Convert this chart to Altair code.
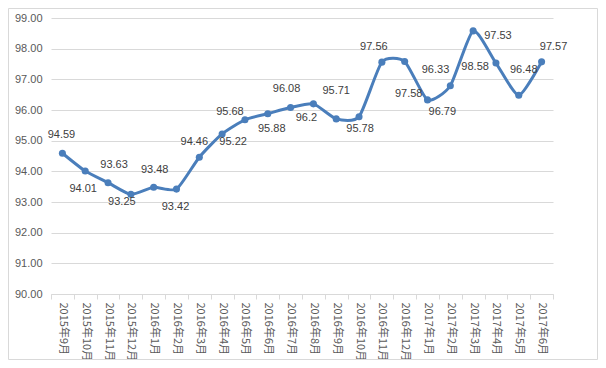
import altair as alt
import pandas as pd

months = ["2015年9月", "2015年10月", "2015年11月", "2015年12月",
          "2016年1月", "2016年2月", "2016年3月", "2016年4月", "2016年5月", "2016年6月",
          "2016年7月", "2016年8月", "2016年9月", "2016年10月", "2016年11月", "2016年12月",
          "2017年1月", "2017年2月", "2017年3月", "2017年4月", "2017年5月", "2017年6月"]
values = [94.59, 94.01, 93.63, 93.25, 93.48, 93.42, 94.46, 95.22, 95.68, 95.88,
          96.08, 96.2, 95.71, 95.78, 97.56, 97.58, 96.33, 96.79, 98.58, 97.53,
          96.48, 97.57]
y_ticks = [90, 91, 92, 93, 94, 95, 96, 97, 98, 99]

# label nudges (pixels) relative to each point, as placed in the original
label_dx = [-1, -2, 6, -9, 1, -1, -5, 11, -15, 4, -4, -7, 0, 1, -8, 4, 8, -8, 2, 2, 5, 12]
label_dy = [-18, 18, -18, 8, -17, 18, -15, 8, -8, 15, -19, 14, -28, 12, -15, 32, -30, 26, 36, -27, -25, -15]

df = pd.DataFrame({
    "month": months,
    "value": values,
    "label": [str(v) for v in values],
    "ldx": label_dx,
    "ldy": label_dy,
})

COLOR = "#4A7EBB"
FONT = "Liberation Sans, Noto Sans CJK SC"

x_enc = alt.X("month:N", sort=months, bandPosition=0.5,
              scale=alt.Scale(type="band", paddingInner=0, paddingOuter=0),
              axis=alt.Axis(title=None, labelAngle=90, labelAlign="left", labelBaseline="middle",
                            labelFont="Noto Sans CJK SC", labelFontSize=11, labelColor="#595959",
                            labelPadding=3, tickBand="extent", ticks=True, tickSize=5,
                            tickColor="#d9d9d9", domainColor="#d9d9d9", grid=False,
                            labelOverlap=False))
y_enc = alt.Y("value:Q", scale=alt.Scale(domain=[90, 99], nice=False, zero=False),
              axis=alt.Axis(title=None, values=y_ticks, format=".2f", labelFont=FONT,
                            labelFontSize=11, labelColor="#595959", labelPadding=9,
                            domain=False, ticks=False, gridColor="#d9d9d9"))

base = alt.Chart(df)

border = alt.Chart(pd.DataFrame({"k": [0]})).mark_rect(
    filled=False, stroke="#d9d9d9", strokeWidth=1
).encode(x=alt.value(-42.5), x2=alt.value(546.5), y=alt.value(-9.5), y2=alt.value(341.5))

line = base.mark_line(color=COLOR, strokeWidth=3, interpolate="cardinal", tension=0.4).encode(x=x_enc, y=y_enc)
points = base.mark_point(filled=True, color=COLOR, size=50, opacity=1).encode(x=x_enc, y=y_enc)
labels = base.mark_text(font=FONT, fontSize=11, color="#404040", align="center",
                        baseline="middle",
                        dx=alt.ExprRef("datum.ldx"), dy=alt.ExprRef("datum.ldy")).encode(
    x=x_enc, y=y_enc, text="label:N",
)

chart = alt.layer(border, line, points, labels).properties(
    width=502, height=276,
    padding={"left": 43, "top": 10, "right": 45, "bottom": 66},
    autosize="none",
).configure_view(stroke=None)

chart.save("out.html", embed_options={"renderer": "svg", "actions": False})
